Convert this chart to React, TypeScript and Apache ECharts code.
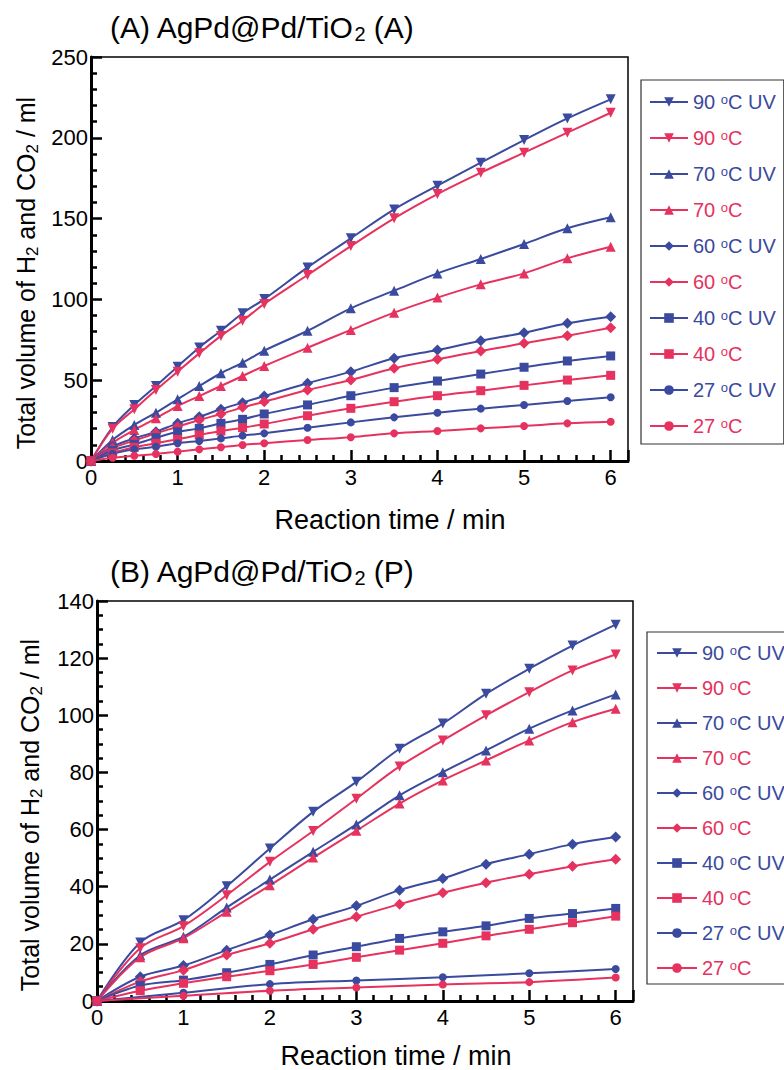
import React, { useEffect, useRef } from 'react';
import * as echarts from 'echarts';

const FONT = '"Liberation Sans", Arial, sans-serif';
const BLUE = '#3a4a9e';
const RED = '#e6325e';

// ---------- Panel A: AgPd@Pd/TiO2 (A) ----------
const timeA = [0, 0.25, 0.5, 0.75, 1, 1.25, 1.5, 1.75, 2, 2.5, 3, 3.5, 4, 4.5, 5, 5.5, 6];
const a90UV = [0, 21, 34.7, 46.4, 58.4, 70.3, 80.6, 91.4, 100.2, 119.8, 137.8, 155.7, 170.4, 184.6, 198.6, 212, 223.8];
const a90 = [0, 20, 32, 43.9, 55.3, 66.6, 77.4, 86.8, 97.2, 115.1, 133, 150.2, 165.2, 178.4, 190.8, 203.2, 215.5];
const a70UV = [0, 13, 22.3, 29.9, 38.2, 46.4, 54.3, 60.8, 68.3, 80.6, 94.5, 105.4, 116.1, 125, 134.3, 144, 150.8];
const a70 = [0, 11.3, 19.2, 26.4, 34, 40.2, 46.4, 52.6, 58.8, 70.1, 81.1, 91.8, 101.1, 109.3, 116.1, 125.4, 132.6];
const a60UV = [0, 8.9, 14, 18.1, 23.3, 27.4, 32, 36.1, 40.2, 48.1, 55.3, 63.6, 68.7, 74.4, 79.4, 85.2, 89.3];
const a60 = [0, 7.9, 12.6, 17.1, 21.2, 25.4, 29.1, 33.2, 36.7, 43.9, 50.1, 57.4, 62.9, 68.1, 72.8, 77.5, 82.5];
const a40UV = [0, 6.5, 10.3, 14.4, 18.1, 20.2, 23.3, 25.8, 29.1, 34.7, 40.4, 45.4, 49.5, 53.8, 58, 61.9, 65];
const a40 = [0, 5, 8.5, 11, 13.4, 16.1, 18.6, 20.6, 22.9, 28, 32.6, 36.7, 40.4, 43.5, 46.8, 50.1, 53];
const a27UV = [0, 4.5, 7.2, 8.8, 11, 12.4, 14, 15.7, 17.1, 20.6, 23.9, 27, 29.9, 32.4, 34.7, 37.1, 39.4];
const a27 = [0, 2, 3.3, 4.3, 5.8, 7.2, 8.5, 9.9, 11, 13, 14.7, 17.1, 18.6, 20.2, 21.7, 23.3, 24.3];

// ---------- Panel B: AgPd@Pd/TiO2 (P) ----------
const timeB = [0, 0.5, 1, 1.5, 2, 2.5, 3, 3.5, 4, 4.5, 5, 5.5, 6];
const timeB27 = [0, 1, 2, 3, 4, 5, 6];
const b90UV = [0, 20.5, 28.3, 40.2, 53.4, 66.2, 76.7, 88.3, 97.1, 107.5, 116.3, 124.4, 131.7];
const b90 = [0, 18.5, 26.2, 37, 48.7, 59.5, 70.8, 82.1, 91.2, 100, 108.1, 115.7, 121.3];
const b70UV = [0, 16, 22.5, 32.7, 42.5, 52.2, 61.8, 72, 80.1, 87.7, 95.3, 101.7, 107.3];
const b70 = [0, 15.3, 22, 31.2, 40.5, 50.2, 59.6, 69.1, 77.2, 84.2, 91.2, 97.6, 102.3];
const b60UV = [0, 8.5, 12.4, 17.8, 23.1, 28.6, 33.3, 38.8, 42.9, 47.9, 51.4, 54.9, 57.4];
const b60 = [0, 6.8, 10.8, 16.1, 20.2, 25.1, 29.5, 33.9, 37.9, 41.4, 44.4, 47.2, 49.6];
const b40UV = [0, 5.4, 7.3, 9.9, 12.8, 16.1, 19, 21.9, 24.2, 26.3, 28.9, 30.6, 32.4];
const b40 = [0, 3.6, 6.2, 8.5, 10.6, 12.8, 15.3, 17.8, 20.2, 22.8, 25.1, 27.4, 29.7];
const b27UV = [0, 2.9, 5.9, 7.2, 8.3, 9.7, 11.2];
const b27 = [0, 1.8, 3.6, 4.7, 5.8, 6.6, 8.2];

const legendNames = ['90 °C UV', '90 °C', '70 °C UV', '70 °C', '60 °C UV', '60 °C', '40 °C UV', '40 °C', '27 °C UV', '27 °C'];

const titleA = ['(A) AgPd@Pd/TiO', '2', ' (A)'];
const titleB = ['(B) AgPd@Pd/TiO', '2', ' (P)'];
const yName = ['Total volume of H', '2', ' and CO', '2', ' / ml'];
const xName = 'Reaction time / min';

const markerFor = (name: string) => {
  const t = name.slice(0, 2);
  if (t === '90') return { symbol: 'triangle', symbolRotate: 180, symbolSize: 10 };
  if (t === '70') return { symbol: 'triangle', symbolRotate: 0, symbolSize: 10 };
  if (t === '60') return { symbol: 'diamond', symbolRotate: 0, symbolSize: 11 };
  if (t === '40') return { symbol: 'rect', symbolRotate: 0, symbolSize: 9 };
  return { symbol: 'circle', symbolRotate: 0, symbolSize: 8 };
};

function makeSeries(name: string, xs: number[], ys: number[]) {
  const color = name.includes('UV') ? BLUE : RED;
  const m = markerFor(name);
  return {
    name,
    type: 'line',
    data: xs.map((x, i) => [x, ys[i]]),
    smooth: 0.35,
    symbol: m.symbol,
    symbolRotate: m.symbolRotate,
    symbolSize: m.symbolSize,
    showAllSymbol: true,
    color,
    itemStyle: { color },
    lineStyle: { color, width: 2 },
  };
}

const richLegend = {
  b: { color: BLUE, fontSize: 20, fontFamily: FONT },
  bo: { color: BLUE, fontSize: 13, fontFamily: FONT, padding: [0, 0, 6, 0] },
  r: { color: RED, fontSize: 20, fontFamily: FONT },
  ro: { color: RED, fontSize: 13, fontFamily: FONT, padding: [0, 0, 6, 0] },
};

const legendFormatter = (name: string) => {
  const k = name.includes('UV') ? 'b' : 'r';
  const parts = name.split('°');
  return `{${k}|${parts[0]}}{${k}o|o}{${k}|${parts[1]}}`;
};

function makeLegend(left: number, top: number, itemWidth: number, itemGap: number, padding: number[]) {
  return {
    orient: 'vertical',
    left,
    top,
    itemWidth,
    itemHeight: 12,
    itemGap,
    padding,
    borderColor: '#333',
    borderWidth: 1.2,
    selectedMode: false,
    data: legendNames,
    formatter: legendFormatter,
    textStyle: { fontSize: 20, fontFamily: FONT, lineHeight: 20, rich: richLegend },
  };
}

function xAxisOpt() {
  return {
    type: 'value',
    min: 0,
    max: 6.2,
    interval: 1,
    axisLine: { show: true, onZero: false, lineStyle: { color: '#000', width: 3 } },
    axisTick: { show: true, inside: true, length: 11, lineStyle: { color: '#000', width: 2.5 } },
    minorTick: { show: true, splitNumber: 5, length: 6, lineStyle: { color: '#000', width: 2.5 } },
    splitLine: { show: false },
    axisLabel: { color: '#000', fontSize: 22, fontFamily: FONT, margin: 5 },
  };
}

function yAxisOpt(max: number, interval: number, minorSplit: number) {
  return {
    type: 'value',
    min: 0,
    max,
    interval,
    axisLine: { show: true, onZero: false, lineStyle: { color: '#000', width: 3 } },
    axisTick: { show: true, inside: true, length: 11, lineStyle: { color: '#000', width: 2.5 } },
    minorTick: { show: true, splitNumber: minorSplit, length: 6, lineStyle: { color: '#000', width: 2.5 } },
    splitLine: { show: false },
    axisLabel: { color: '#000', fontSize: 22, fontFamily: FONT, margin: 3 },
  };
}

const titleRich = {
  t: { fontSize: 30, fontFamily: FONT, fill: '#000', lineHeight: 34 },
  s: { fontSize: 20, fontFamily: FONT, fill: '#000', verticalAlign: 'bottom', lineHeight: 8 },
};

const yRich = {
  t: { fontSize: 25, fontFamily: FONT, fill: '#000', lineHeight: 30 },
  s: { fontSize: 17, fontFamily: FONT, fill: '#000', verticalAlign: 'bottom', lineHeight: 8 },
};

function titleText(parts: string[], x: number, y: number) {
  return {
    type: 'text',
    x,
    y,
    style: {
      text: `{t|${parts[0]}}{s|${parts[1]}}{t|${parts[2]}}`,
      rich: titleRich,
      align: 'left',
      verticalAlign: 'middle',
    },
  };
}

function yNameText(x: number, y: number) {
  return {
    type: 'text',
    x,
    y,
    rotation: Math.PI / 2,
    style: {
      text: `{t|${yName[0]}}{s|${yName[1]}}{t|${yName[2]}}{s|${yName[3]}}{t|${yName[4]}}`,
      rich: yRich,
      align: 'center',
      verticalAlign: 'middle',
    },
  };
}

function xNameText(x: number, y: number) {
  return {
    type: 'text',
    x,
    y,
    style: {
      text: xName,
      fontSize: 27,
      fontFamily: FONT,
      fill: '#000',
      align: 'center',
      verticalAlign: 'middle',
    },
  };
}

function optionA() {
  const ys = [a90UV, a90, a70UV, a70, a60UV, a60, a40UV, a40, a27UV, a27];
  return {
    animation: false,
    backgroundColor: '#fff',
    grid: { left: 91, top: 57, width: 537, height: 404, show: true, borderColor: '#000', borderWidth: 1.5 },
    xAxis: xAxisOpt(),
    yAxis: yAxisOpt(250, 50, 5),
    legend: makeLegend(641, 80, 38, 16, [12, 8, 8, 8]),
    graphic: [titleText(titleA, 110, 27), yNameText(26, 273), xNameText(390, 520)],
    series: legendNames.map((n, i) => makeSeries(n, timeA, ys[i])),
  };
}

function optionB() {
  const ys = [b90UV, b90, b70UV, b70, b60UV, b60, b40UV, b40, b27UV, b27];
  const xs = [timeB, timeB, timeB, timeB, timeB, timeB, timeB, timeB, timeB27, timeB27];
  return {
    animation: false,
    backgroundColor: '#fff',
    grid: { left: 97, top: 66, width: 536, height: 400, show: true, borderColor: '#000', borderWidth: 1.5 },
    xAxis: xAxisOpt(),
    yAxis: yAxisOpt(140, 20, 4),
    legend: makeLegend(647, 97, 40, 15, [11, 8, 6, 9]),
    graphic: [titleText(titleB, 110, 36), yNameText(30, 280), xNameText(396, 521)],
    series: legendNames.map((n, i) => makeSeries(n, xs[i], ys[i])),
  };
}

function Panel({ build, top }: { build: () => any; top: number }) {
  const ref = useRef<HTMLDivElement>(null);
  useEffect(() => {
    const chart = echarts.init(ref.current as HTMLDivElement, null, { renderer: 'svg' });
    chart.setOption(build());
    return () => chart.dispose();
  }, []);
  return <div ref={ref} style={{ position: 'absolute', left: 0, top, width: 784, height: 535 }} />;
}

export default function App() {
  return (
    <div style={{ position: 'absolute', left: 0, top: 0, width: 784, height: 1070, background: '#fff' }}>
      <Panel build={optionA} top={0} />
      <Panel build={optionB} top={535} />
    </div>
  );
}
